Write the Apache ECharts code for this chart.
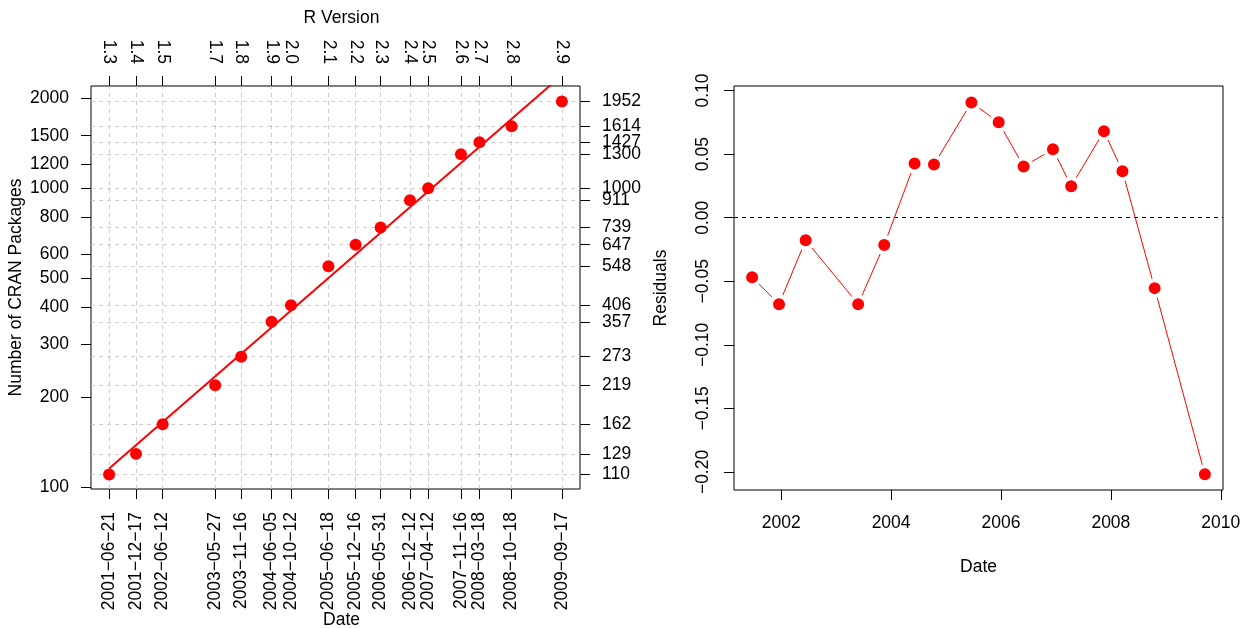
<!DOCTYPE html>
<html>
<head>
<meta charset="utf-8">
<script src="https://cdn.jsdelivr.net/npm/echarts@6/dist/echarts.min.js"></script>
<style>
html,body{margin:0;padding:0;background:#fff;}
#chart{width:1247px;height:628px;}
</style>
</head>
<body>
<div id="chart"></div>
<script>
// ---- data ----
const dates = ['2001-06-21','2001-12-17','2002-06-12','2003-05-27','2003-11-16','2004-06-05','2004-10-12','2005-06-18','2005-12-16','2006-05-31','2006-12-12','2007-04-12','2007-11-16','2008-03-18','2008-10-18','2009-09-17'];
const versions = ['1.3','1.4','1.5','1.7','1.8','1.9','2.0','2.1','2.2','2.3','2.4','2.5','2.6','2.7','2.8','2.9'];
const packages = [110,129,162,219,273,357,406,548,647,739,911,1000,1300,1427,1614,1952];
const residuals = [-0.0468,-0.0680,-0.0178,-0.0680,-0.0214,0.0426,0.0418,0.0907,0.0750,0.0403,0.0538,0.0248,0.0680,0.0366,-0.0554,-0.2018];
const fitDates = ['2001-06-21','2009-09-17'];
const fitValues = [115.3, 2390];
const leftTicks = [100,200,300,400,500,600,800,1000,1200,1500,2000];
const residTicks = [-0.20,-0.15,-0.10,-0.05,0.00,0.05,0.10];
const yearTicks = ['2002-01-01','2004-01-01','2006-01-01','2008-01-01','2010-01-01'];

// ---- helpers ----
function ts(s){ const p = s.split('-').map(Number); return Date.UTC(p[0], p[1]-1, p[2]); }
const dateNums = dates.map(ts);
const yearNums = yearTicks.map(ts);
const span = dateNums[dateNums.length-1] - dateNums[0];
const xMin = dateNums[0] - span*0.04;
const xMax = dateNums[dateNums.length-1] + span*0.04;
function nearestIdx(arr, v){ let b=0; for(let i=1;i<arr.length;i++){ if(Math.abs(arr[i]-v)<Math.abs(arr[b]-v)) b=i; } return b; }
const MINUS = '\u2212';
const FONT = '"Liberation Sans", Arial, Helvetica, sans-serif';
const FS = 17.5;
const txt = {color:'#000', fontSize:FS, fontFamily:FONT};
const tick = {show:true, inside:false, length:10, lineStyle:{color:'#000', width:1}};
const noLine = {show:false, onZero:false};

const chart = echarts.init(document.getElementById('chart'), null, {renderer:'canvas'});
chart.setOption({
  animation:false,
  backgroundColor:'#fff',
  grid:[
    {left:91, top:86, width:489, height:403, show:true, borderColor:'#000', borderWidth:1, backgroundColor:'transparent', containLabel:false, outerBoundsMode:'none'},
    {left:734, top:86, width:489, height:404, show:true, borderColor:'#000', borderWidth:1, backgroundColor:'transparent', containLabel:false, outerBoundsMode:'none'}
  ],
  xAxis:[
    {type:'value', gridIndex:0, position:'bottom', min:xMin, max:xMax, scale:true,
     axisLine:noLine, splitLine:{show:false},
     axisTick:Object.assign({customValues:dateNums}, tick),
     axisLabel:Object.assign({customValues:dateNums, rotate:90, margin:23,
        formatter:v=>dates[nearestIdx(dateNums, v)].replace(/-/g, MINUS)}, txt),
     name:'Date', nameLocation:'middle', nameGap:122, nameMoveOverlap:false,
     nameTextStyle:Object.assign({padding:[0,0,0,12]}, txt)},
    {type:'value', gridIndex:0, position:'top', min:xMin, max:xMax, scale:true,
     axisLine:noLine, splitLine:{show:false},
     axisTick:Object.assign({customValues:dateNums}, tick),
     axisLabel:Object.assign({customValues:dateNums, rotate:90, margin:22,
        formatter:v=>versions[nearestIdx(dateNums, v)]}, txt),
     name:'R Version', nameLocation:'middle', nameGap:59,
     nameTextStyle:Object.assign({padding:[0,0,0,12]}, txt)},
    {type:'value', gridIndex:1, position:'bottom', min:xMin, max:xMax, scale:true,
     axisLine:noLine, splitLine:{show:false},
     axisTick:Object.assign({customValues:yearNums}, tick),
     axisLabel:Object.assign({customValues:yearNums, margin:24,
        formatter:v=>yearTicks[nearestIdx(yearNums, v)].slice(0,4)}, txt),
     name:'Date', nameLocation:'middle', nameGap:68, nameTextStyle:txt}
  ],
  yAxis:[
    {type:'log', gridIndex:0, position:'left', min:98.4, max:2200,
     axisLine:noLine, splitLine:{show:false},
     axisTick:Object.assign({customValues:leftTicks}, tick),
     axisLabel:Object.assign({customValues:leftTicks, margin:22, formatter:v=>String(Math.round(v))}, txt),
     name:'Number of CRAN Packages', nameLocation:'middle', nameGap:66, nameTextStyle:txt},
    {type:'log', gridIndex:0, position:'right', min:98.4, max:2200,
     axisLine:noLine, splitLine:{show:false},
     axisTick:Object.assign({customValues:packages}, tick),
     axisLabel:Object.assign({customValues:packages, margin:22, formatter:v=>String(Math.round(v))}, txt)},
    {type:'value', gridIndex:1, position:'left', min:-0.2142, max:0.1036,
     axisLine:noLine, splitLine:{show:false},
     axisTick:Object.assign({customValues:residTicks}, tick),
     axisLabel:Object.assign({customValues:residTicks, rotate:90, margin:22,
        formatter:v=>v.toFixed(2).replace('-', MINUS)}, txt),
     name:'Residuals', nameLocation:'middle', nameGap:64, nameTextStyle:txt}
  ],
  series:[
    {type:'line', name:'grid', xAxisIndex:0, yAxisIndex:1, z:1, silent:true,
     data: dateNums.map((d,i)=>[d, packages[i]]), showSymbol:false, symbol:'none',
     lineStyle:{opacity:0},
     markLine:{silent:true, z:1, symbol:['none','none'], label:{show:false},
       lineStyle:{color:'#cccccc', type:[4,4], width:1},
       emphasis:{disabled:true},
       data: dateNums.map(d=>({xAxis:d})).concat(packages.map(v=>({yAxis:v})))}},
    {type:'line', name:'fit', xAxisIndex:0, yAxisIndex:0, z:2, silent:true,
     data: fitDates.map((d,i)=>[ts(d), fitValues[i]]),
     showSymbol:false, symbol:'none', clip:true,
     lineStyle:{color:'#ff0000', width:2}},
    {type:'scatter', name:'packages', xAxisIndex:0, yAxisIndex:0, z:3, silent:true,
     data: dateNums.map((d,i)=>[d, packages[i]]),
     symbol:'circle', symbolSize:12, itemStyle:{color:'#ff0000', opacity:1}},
    {type:'line', name:'residuals', xAxisIndex:2, yAxisIndex:2, z:3, silent:true,
     data: dateNums.map((d,i)=>[d, residuals[i]]),
     showSymbol:true, showAllSymbol:true, symbol:'circle', symbolSize:16,
     lineStyle:{color:'#ff0000', width:1},
     itemStyle:{color:'#ff0000', borderColor:'#ffffff', borderWidth:4, opacity:1},
     markLine:{silent:true, z:1, symbol:['none','none'], label:{show:false},
       lineStyle:{color:'#000', type:[4,4], width:1},
       emphasis:{disabled:true},
       data:[{yAxis:0}]}}
  ]
});
</script>
</body>
</html>
